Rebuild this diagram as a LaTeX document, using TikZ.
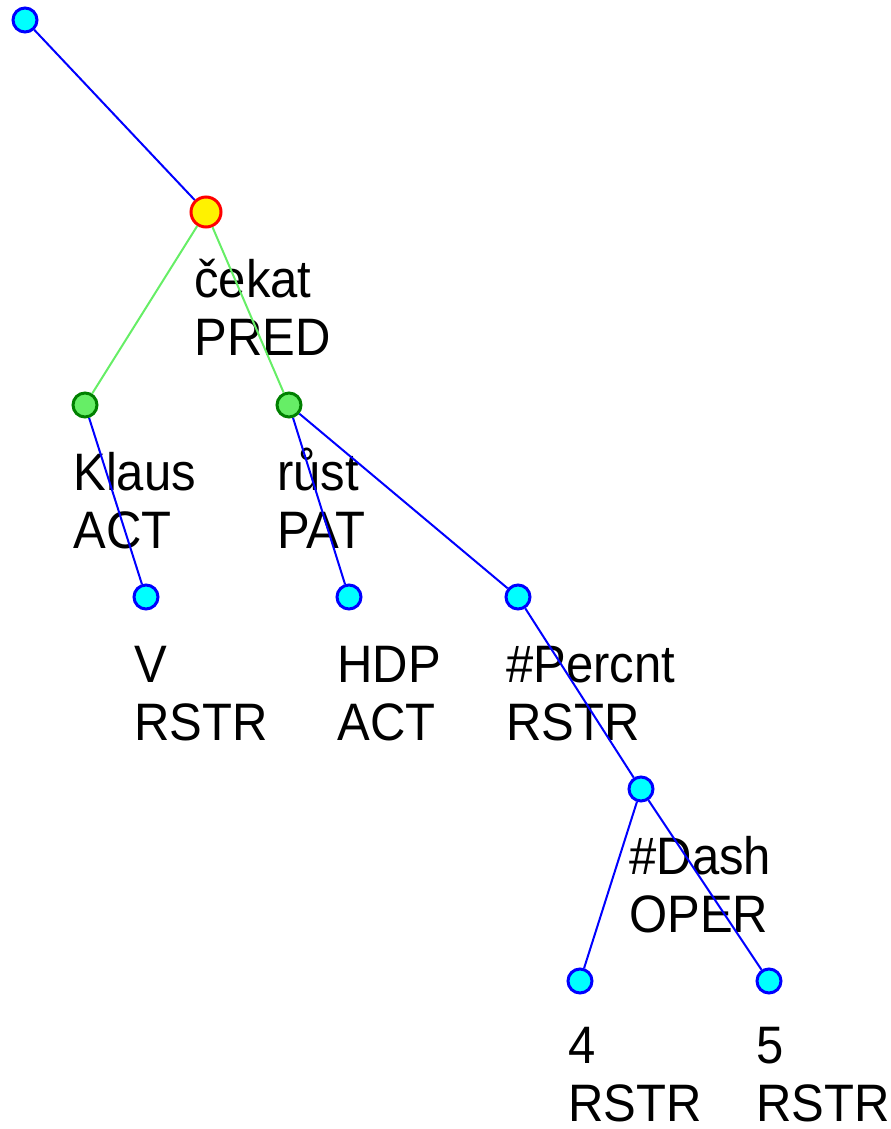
\documentclass[tikz,border=0pt]{standalone}
\usepackage{fontspec}
\setmainfont[FakeStretch=0.93]{Liberation Sans}
\definecolor{nodecyan}{RGB}{0,255,255}
\definecolor{leafgreen}{RGB}{102,238,102}
\definecolor{darkgreen}{RGB}{0,128,0}

\begin{document}
\begin{tikzpicture}[x=0.02cm, y=-0.02cm,
  tnode/.style={shape=circle, draw=blue, fill=nodecyan, line width=0.06cm, minimum size=0.48cm, inner sep=0pt},
  prednode/.style={tnode, draw=red, fill=yellow, minimum size=0.6cm},
  greennode/.style={tnode, draw=darkgreen, fill=leafgreen},
  tlabel/.style={anchor=base west, align=left, inner sep=0pt, font=\fontsize{30}{33}\selectfont}]
\useasboundingbox (0,0) rectangle (890,1129);

\node (root) at (25,20) [tnode] {};

\node (cekat) at (206,212) [prednode] {};

\node (Klaus) at (85,405) [greennode] {};

\node (rust) at (289,405) [greennode] {};

\node (V) at (146,597) [tnode] {};

\node (HDP) at (349,597) [tnode] {};

\node (Percnt) at (518,597) [tnode] {};

\node (Dash) at (641,789) [tnode] {};

\node (four) at (580,981) [tnode] {};

\node (five) at (769,981) [tnode] {};

% labels, placed at the baseline of their second line
\node (cekat label) at (194,355) [tlabel] {čekat\\PRED};
\node (Klaus label) at (73,548) [tlabel] {Klaus\\ACT};
\node (rust label) at (277,548) [tlabel] {růst\\PAT};
\node (V label) at (134,740) [tlabel] {V\\RSTR};
\node (HDP label) at (337,740) [tlabel] {HDP\\ACT};
\node (Percnt label) at (506,740) [tlabel] {\#Percnt\\RSTR};
\node (Dash label) at (629,932) [tlabel] {\#Dash\\OPER};
\node (four label) at (568,1121) [tlabel] {4\\RSTR};
\node (five label) at (756,1121) [tlabel] {5\\RSTR};

\path [-, line width=0.04cm, blue]   (root)  edge  (cekat)
  (cekat)  edge [leafgreen]  (Klaus)
    edge [leafgreen]  (rust)
  (Klaus)  edge  (V)
  (rust)  edge  (HDP)
    edge  (Percnt)
  (Percnt)  edge  (Dash)
  (Dash)  edge  (four)
    edge  (five);
\end{tikzpicture}
\end{document}
